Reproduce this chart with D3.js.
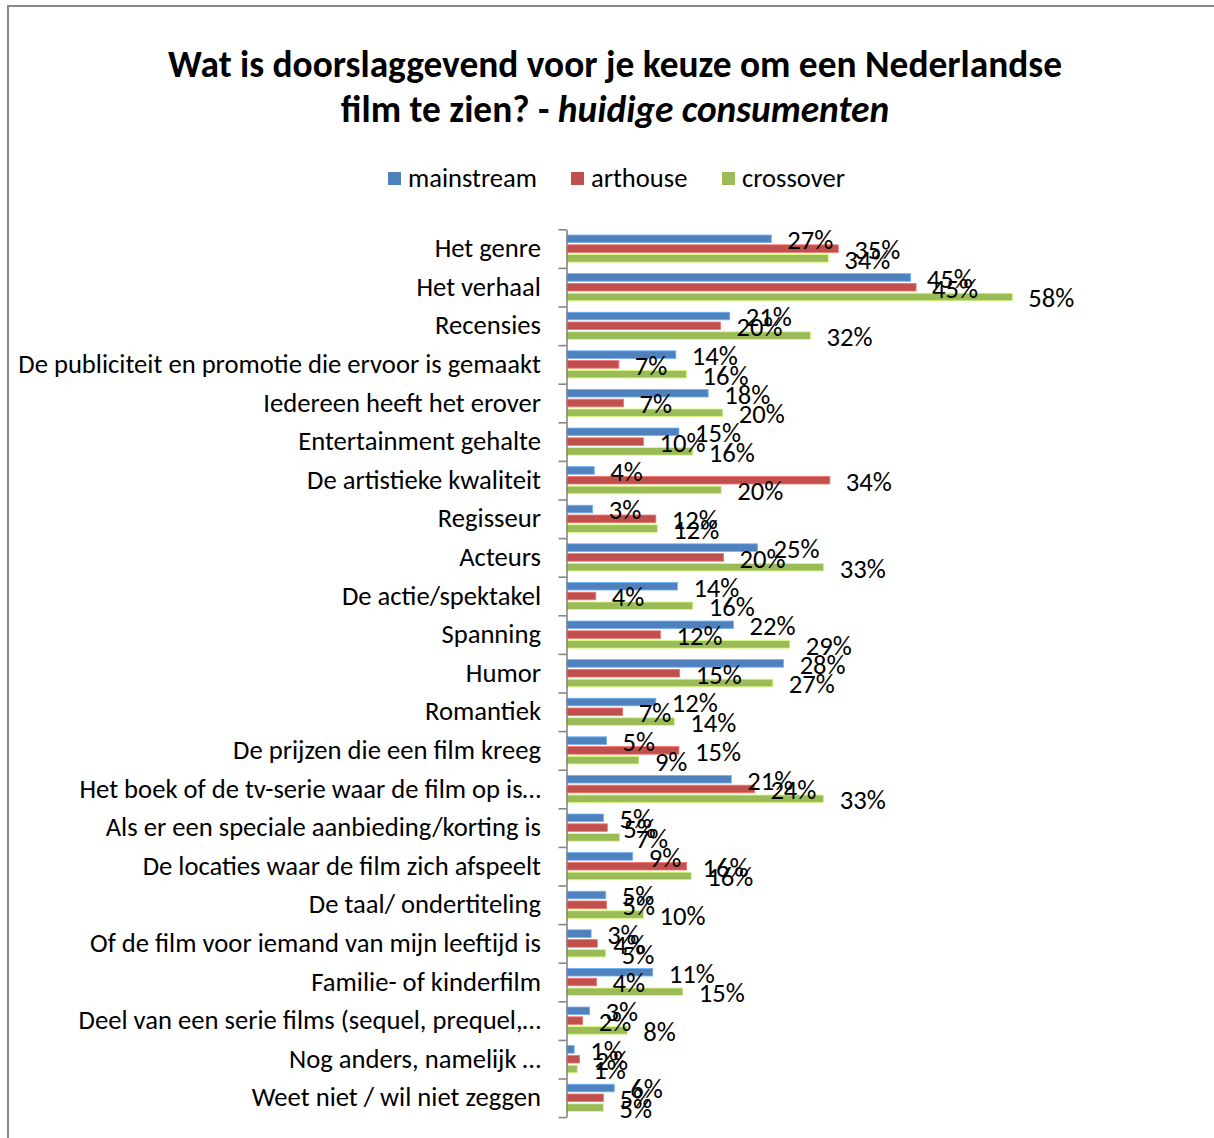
<!DOCTYPE html>
<html>
<head>
<meta charset="utf-8">
<script src="https://cdn.jsdelivr.net/npm/d3@7"></script>
<style>
  html, body { margin: 0; padding: 0; background: #ffffff; }
  svg { display: block; }
  text { font-family: Carlito, Calibri, Lato, "Open Sans", sans-serif; fill: #000; }
</style>
</head>
<body>
<svg id="chart" width="1214" height="1138"></svg>
<script>
const titleLine1 = "Wat is doorslaggevend voor je keuze om een Nederlandse";
const titleLine2a = "film te zien? - ";
const titleLine2b = "huidige consumenten";

const categories = [
  "Het genre",
  "Het verhaal",
  "Recensies",
  "De publiciteit en promotie die ervoor is gemaakt",
  "Iedereen heeft het erover",
  "Entertainment gehalte",
  "De artistieke kwaliteit",
  "Regisseur",
  "Acteurs",
  "De actie/spektakel",
  "Spanning",
  "Humor",
  "Romantiek",
  "De prijzen die een film kreeg",
  "Het boek of de tv-serie waar de film op is…",
  "Als er een speciale aanbieding/korting is",
  "De locaties waar de film zich afspeelt",
  "De taal/ ondertiteling",
  "Of de film voor iemand van mijn leeftijd is",
  "Familie- of kinderfilm",
  "Deel van een serie films (sequel, prequel,…",
  "Nog anders, namelijk …",
  "Weet niet / wil niet zeggen"
];

const seriesNames = ["mainstream", "arthouse", "crossover"];
const seriesColors = ["#4F81BD", "#C0504D", "#9BBB59"];

const mainstream = [26.6, 44.7, 21.2, 14.2, 18.4, 14.6, 3.6, 3.4, 24.8, 14.4, 21.7, 28.2, 11.6, 5.2, 21.4, 4.8, 8.6, 5.1, 3.2, 11.2, 3.0, 1.0, 6.2];
const arthouse   = [35.3, 45.4, 20.0, 6.8, 7.4, 10.0, 34.2, 11.6, 20.4, 3.8, 12.2, 14.7, 7.3, 14.6, 24.4, 5.3, 15.6, 5.2, 4.0, 3.9, 2.1, 1.7, 4.8];
const crossover  = [34.0, 57.9, 31.7, 15.6, 20.3, 16.4, 20.1, 11.8, 33.4, 16.4, 29.0, 26.8, 14.0, 9.4, 33.4, 6.9, 16.2, 10.0, 5.1, 15.1, 7.9, 1.4, 4.8];

const seriesValues = [mainstream, arthouse, crossover];

const svg = d3.select("#chart");

// chart border
svg.append("rect")
  .attr("x", 8).attr("y", 6).attr("width", 1400).attr("height", 1400)
  .attr("fill", "#fff").attr("stroke", "#888").attr("stroke-width", 2);

// helper to fit font size to a target width
function fitSize(str, target, weight, style) {
  const t = svg.append("text").attr("font-size", 100)
    .attr("font-weight", weight || "normal").attr("font-style", style || "normal")
    .text(str);
  const w = t.node().getComputedTextLength();
  t.remove();
  return 100 * target / w;
}

// Title
const titleSize = fitSize(titleLine1, 894, "bold");
svg.append("text")
  .attr("x", 615).attr("y", 77)
  .attr("text-anchor", "middle")
  .attr("font-size", titleSize).attr("font-weight", "bold")
  .text(titleLine1);
const t2 = svg.append("text")
  .attr("x", 615).attr("y", 122)
  .attr("text-anchor", "middle")
  .attr("font-size", titleSize).attr("font-weight", "bold");
t2.append("tspan").text(titleLine2a);
t2.append("tspan").attr("font-style", "italic").text(titleLine2b);

// Sizes
const catSize = fitSize(categories[3], 523);
const legendSize = fitSize("mainstream", 129);

// Legend
const legendX = [388, 571, 722];
const leg = svg.append("g");
seriesNames.forEach((s, i) => {
  leg.append("rect")
    .attr("x", legendX[i]).attr("y", 172).attr("width", 13).attr("height", 13)
    .attr("fill", seriesColors[i]);
  leg.append("text")
    .attr("x", legendX[i] + 20).attr("y", 187)
    .attr("font-size", legendSize)
    .text(s);
});

// Scales
const x0 = 566.5;
const x = d3.scaleLinear().domain([0, 70]).range([x0, x0 + 539]);
const yTop = 229.3, yBottom = 229.3 + 23 * 38.6;
const y = d3.scaleBand().domain(categories).range([yTop, yBottom])
  .paddingInner(0.24).paddingOuter(0.12);
const ySub = d3.scaleBand().domain(seriesNames).range([0, y.bandwidth()]);

// Bars
const barH = ySub.bandwidth() - 2.2;
seriesNames.forEach((s, si) => {
  const g = svg.append("g");
  g.selectAll("rect").data(categories).join("rect")
    .attr("x", x(0))
    .attr("y", (c) => y(c) + ySub(s) + 1.1)
    .attr("width", (c, i) => x(seriesValues[si][i]) - x(0))
    .attr("height", barH)
    .attr("fill", seriesColors[si])
    .attr("stroke", d3.color(seriesColors[si]).brighter(0.9))
    .attr("stroke-width", 0.8);
});

// Category axis line + ticks between categories
const yIdx = d3.scaleLinear().domain([0, categories.length]).range([yTop, yBottom]);
const axisG = svg.append("g").attr("transform", `translate(${x0},0)`)
  .call(d3.axisLeft(yIdx).ticks(categories.length).tickValues(d3.range(categories.length + 1))
    .tickSize(8).tickSizeOuter(0).tickFormat(""));
axisG.selectAll("path, line").attr("stroke", "#868686").attr("stroke-width", 1.6);

// Category labels
const labG = svg.append("g").attr("transform", `translate(${x0},0)`)
  .call(d3.axisLeft(y).tickSize(0).tickPadding(25.5));
labG.select(".domain").remove();
labG.selectAll("text")
  .attr("font-size", catSize)
  .attr("font-family", "Carlito, Calibri, Lato, 'Open Sans', sans-serif")
  .attr("fill", "#000");

// Data labels
seriesNames.forEach((s, si) => {
  const g = svg.append("g");
  g.selectAll("text").data(categories).join("text")
    .attr("x", (c, i) => x(seriesValues[si][i]) + 16)
    .attr("y", (c) => y(c) + ySub(s) + ySub.bandwidth() / 2 + 1)
    .attr("dy", "0.35em")
    .attr("font-size", catSize)
    .text((c, i) => Math.round(seriesValues[si][i]) + "%");
});
</script>
</body>
</html>
